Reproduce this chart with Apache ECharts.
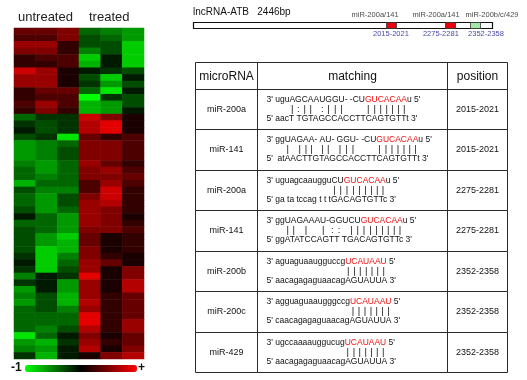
<!DOCTYPE html>
<html><head><meta charset="utf-8">
<script src="https://cdn.jsdelivr.net/npm/echarts@6/dist/echarts.min.js"></script>
<style>html,body{margin:0;padding:0;background:#fff}#c{width:527px;height:380px}</style>
</head><body><div id="c"></div>
<script>
// ---------------- DATA ----------------
const groupLabels = ['untreated', 'treated'];
const sampleNames = ['untreated 1', 'untreated 2', 'untreated 3', 'treated 1', 'treated 2', 'treated 3'];
const untreated1 = [0.4,0.3,0.6,0.5,0.2,0.2,0.8,0.6,0.6,0.2,
  0.2,0.3,0.2,-0.4,-0.2,-0.1,-0.3,-0.6,-0.6,-0.6,
  -0.5,-0.4,-0.4,-0.7,-0.3,-0.4,-0.4,-0.3,-0.1,-0.4,
  -0.3,-0.3,-0.3,-0.3,-0.2,-0.1,-0.2,-0.5,-0.2,-0.6,
  -0.5,-0.6,-0.4,-0.4,-0.4,-0.4,-0.9,-0.6,-0.5,-0.2];
const untreated2 = [0.4,0.3,0.6,0.5,0.3,0.2,0.6,0.6,0.6,0.4,
  0.3,0.6,0.5,-0.2,-0.3,-0.3,-0.2,-0.5,-0.5,-0.5,
  -0.6,-0.6,-0.5,-0.4,-0.5,-0.6,-0.6,-0.6,-0.4,-0.4,
  -0.4,-0.6,-0.6,-0.8,-0.8,-0.8,-0.8,-0.1,-0.1,-0.1,
  -0.3,-0.3,-0.3,-0.4,-0.4,-0.5,-0.4,-0.7,-0.6,-0.7];
const untreated3 = [0.5,0.5,0.2,0.2,0.3,0.3,0.1,0.1,0.1,0.4,
  0.3,0.3,0.2,-0.2,-0.2,-0.2,-0.9,-0.4,-0.3,-0.3,
  -0.4,-0.4,-0.4,-0.4,-0.5,-0.3,-0.3,-0.4,-0.6,-0.6,
  -0.6,-0.8,-0.7,-0.7,-0.5,-0.4,-0.3,-0.2,-0.6,-0.6,
  -0.7,-0.7,-0.5,-0.4,-0.4,-0.3,-0.1,-0.2,-0.1,-0.1];
const treated1 = [-0.4,-0.3,-0.3,-0.5,-0.8,-0.7,-0.1,-0.3,-0.2,-0.4,
  -1.0,-0.7,-0.7,0.8,0.7,0.7,0.4,0.5,0.5,0.5,
  0.6,0.5,0.5,0.3,0.3,0.5,0.6,0.6,0.6,0.6,
  0.5,0.4,0.4,0.5,0.5,0.6,0.6,0.9,0.6,0.6,
  0.6,0.7,0.6,0.9,0.9,0.7,0.5,0.6,0.7,0.1];
const treated2 = [-0.5,-0.4,-0.3,-0.3,-0.1,-0.1,-0.2,-0.8,-0.6,-0.9,
  -0.2,-0.6,-0.6,0.5,0.9,0.9,0.2,0.5,0.5,0.5,
  0.4,0.6,0.5,0.6,0.8,0.8,0.7,0.5,0.5,0.5,
  0.5,0.1,0.1,0.1,0.2,0.4,0.1,0.1,0.1,0.1,
  0.2,0.2,0.2,0.2,0.2,0.2,0.1,0.2,0.1,0.5];
const treated3 = [-0.6,-0.6,-0.8,-0.8,-0.8,-0.8,-0.3,-0.1,-0.3,-0.1,
  -0.3,-0.3,-0.1,0.1,0.1,0.1,0.3,0.3,0.3,0.3,
  0.2,0.3,0.4,0.3,0.2,0.2,0.2,0.2,0.1,0.2,
  0.3,0.2,0.2,0.2,0.1,0.1,0.5,0.5,0.7,0.7,
  0.4,0.4,0.4,0.4,0.6,0.6,0.4,0.4,0.5,0.7];
const colorbarLabels = ['-1', '+'];

const lncTitle = 'lncRNA-ATB   2446bp';
const siteMirs = ['miR-200a/141', 'miR-200a/141', 'miR-200b/c/429'];
const sitePositions = ['2015-2021', '2275-2281', '2352-2358'];

const tableHeaders = ['microRNA', 'matching', 'position'];
const mirNames = ['miR-200a', 'miR-141', 'miR-200a', 'miR-141', 'miR-200b', 'miR-200c', 'miR-429'];
const mirPre = ["3' uguAGCAAUGGU- -CU", "3' ggUAGAA- AU- GGU- -CU", "3' uguagcaaugguCU", "3' ggUAGAAAU-GGUCU",
  "3' aguaguaaugguccg", "3' agguaguaaugggccg", "3' ugccaaaauggucug"];
const mirSeed = ['GUCACAA', 'GUCACAA', 'GUCACAA', 'GUCACAA', 'UCAUAAU', 'UCAUAAU', 'UCAUAAU'];
const mirPost = ["u 5'", "u 5'", "u 5'", "u 5'", " 5'", " 5'", " 5'"];
// one character per miRNA base: '|' pair, ':' G:U pair, '.' none
const pairLines = [
  '......|:||.:|||.....|||||||....',
  '.....|.|||..||..|||.....|||||||....',
  '...............|||||||||....',
  '.....||.|..|.::.|||||||||...',
  '..................|||||||...',
  '...................|||||||...',
  '..................|||||||...'
];
const targetLines = ["5' aacT TGTAGCCACCTTCAGTGTTt 3'", "5'  atAACTTGTAGCCACCTTCAGTGTTt 3'",
  "5' ga ta tccag t t tGACAGTGTTc 3'", "5' ggATATCCAGTT TGACAGTGTTc 3'",
  "5' aacagagaguaacagAGUAUUA 3'", "5' caacagagaguaacagAGUAUUA 3'", "5' aacagagaguaacagAGUAUUA 3'"];
const matchPositions = ['2015-2021', '2015-2021', '2275-2281', '2275-2281', '2352-2358', '2352-2358', '2352-2358'];

// ---------------- LAYOUT / STYLE ----------------
const FONT = 'Liberation Sans, Arial, Helvetica, sans-serif';
const colEdges = [0, 62 / 312, 252 / 312, 1];
const headerFrac = 27 / 310;
const siteBoxFrac = [[0.645, 0.679], [0.843, 0.876], [0.926, 0.960]];
const siteMirLabelFrac = [0.609, 0.813, 1.0];
const sitePosLabelFrac = [0.662, 0.829, 0.980];
const siteFill = ['#e8000c', '#e8000c', '#a4e6a4'];
const SEQ_SIZE = 8.5;

const ctx = document.createElement('canvas').getContext('2d');
function tw(s, size) { ctx.font = size + 'px ' + FONT; return ctx.measureText(s).width; }
function txt(x, y, s, o) {
  o = o || {};
  return { type: 'text', x: x, y: y, silent: true, style: {
    text: s, fill: o.fill || '#111', fontSize: o.size || 9, fontFamily: FONT, fontWeight: o.weight || 'normal',
    align: o.align || 'left', verticalAlign: 'middle', textAlign: o.align || 'left', textVerticalAlign: 'middle' } };
}

const columns = [untreated1, untreated2, untreated3, treated1, treated2, treated3];
const heatData = [];
columns.forEach((col, ci) => col.forEach((v, ri) => heatData.push([ci, ri, v])));

const bodyRows = mirNames.length;
function rowEdge(i) { return i === 0 ? 0 : headerFrac + (1 - headerFrac) * (i - 1) / bodyRows; }

function renderTable(params, api) {
  const i = api.value(0);
  const yTop = Math.round(api.coord([0, rowEdge(i)])[1]) + 0.5;
  const yBot = Math.round(api.coord([0, rowEdge(i + 1)])[1]) + 0.5;
  const xs = colEdges.map(f => Math.round(api.coord([f, 0])[0]) + 0.5);
  const ch = [];
  for (let c = 0; c < 3; c++) {
    ch.push({ type: 'rect', silent: true, shape: { x: xs[c], y: yTop, width: xs[c + 1] - xs[c], height: yBot - yTop },
      style: { fill: 'none', stroke: '#2a2a2a', lineWidth: 1 } });
  }
  const ym = (yTop + yBot) / 2;
  if (i === 0) {
    tableHeaders.forEach((h, c) => ch.push(txt((xs[c] + xs[c + 1]) / 2, ym + 1, h, { size: 12, align: 'center' })));
  } else {
    const r = i - 1;
    ch.push(txt((xs[0] + xs[1]) / 2, ym, mirNames[r], { size: 9, align: 'center' }));
    ch.push(txt((xs[2] + xs[3]) / 2, ym, matchPositions[r], { size: 9, align: 'center' }));
    const x0 = xs[1] + 9;
    const l1 = mirPre[r] + mirSeed[r] + mirPost[r];
    const y1 = yTop + 10, y2 = yTop + 19.5, y3 = yTop + 29;
    ch.push(txt(x0, y1, mirPre[r], { size: SEQ_SIZE }));
    const wPre = tw(mirPre[r], SEQ_SIZE);
    ch.push(txt(x0 + wPre, y1, mirSeed[r], { size: SEQ_SIZE, fill: '#f01010' }));
    ch.push(txt(x0 + wPre + tw(mirSeed[r], SEQ_SIZE), y1, mirPost[r], { size: SEQ_SIZE }));
    const pl = pairLines[r];
    for (let k = 0; k < pl.length; k++) {
      if (pl[k] === '.') continue;
      const cx = x0 + tw(l1.slice(0, k), SEQ_SIZE) + tw(l1[k], SEQ_SIZE) / 2;
      ch.push(txt(cx, y2, pl[k], { size: 9.5, align: 'center' }));
    }
    ch.push(txt(x0, y3, targetLines[r], { size: SEQ_SIZE }));
  }
  return { type: 'group', children: ch };
}

function renderBackbone(params, api) {
  const a = api.coord([api.value(0), 1]), b = api.coord([api.value(1), 0]);
  const x = Math.round(a[0]) + 0.5, y = Math.round(a[1]) + 0.5;
  return { type: 'rect', silent: true, shape: { x: x, y: y, width: Math.round(b[0] - a[0]), height: Math.round(b[1] - a[1]) },
    style: { fill: 'none', stroke: '#111', lineWidth: 1.2 } };
}
function renderSite(params, api) {
  const s = api.value(0);
  const a = api.coord([siteBoxFrac[s][0], 1]), b = api.coord([siteBoxFrac[s][1], 0]);
  const yTop = a[1], yBot = b[1];
  const lm = api.coord([siteMirLabelFrac[s], 1]), lp = api.coord([sitePosLabelFrac[s], 0]);
  return { type: 'group', children: [
    { type: 'rect', silent: true, shape: { x: Math.round(a[0]) + 0.5, y: Math.round(yTop) + 0.5, width: Math.round(b[0] - a[0]), height: Math.round(yBot - yTop) },
      style: { fill: siteFill[s], stroke: '#333', lineWidth: 0.8 } },
    txt(lm[0], yTop - 7, siteMirs[s], { size: 7.5, align: 'center', fill: '#4a4a4a' }),
    txt(lp[0], yBot + 5.5, sitePositions[s], { size: 7.5, align: 'center', fill: '#4848a8' })
  ] };
}

const option = {
  animation: false,
  backgroundColor: '#ffffff',
  title: [
    { text: groupLabels[0], left: 18, top: 11, padding: 0, textStyle: { fontFamily: FONT, fontSize: 13, fontWeight: 'normal', color: '#222' } },
    { text: groupLabels[1], left: 89, top: 11, padding: 0, textStyle: { fontFamily: FONT, fontSize: 13, fontWeight: 'normal', color: '#222' } },
    { text: lncTitle, left: 193, top: 7, padding: 0, textStyle: { fontFamily: FONT, fontSize: 10, fontWeight: 'normal', color: '#111' } }
  ],
  grid: [
    { left: 14, top: 28, width: 130, height: 331 },
    { left: 195, top: 62, width: 312, height: 310 },
    { left: 193, top: 22, width: 299, height: 6 }
  ],
  xAxis: [
    { gridIndex: 0, type: 'category', data: sampleNames, show: false },
    { gridIndex: 1, type: 'value', min: 0, max: 1, show: false },
    { gridIndex: 2, type: 'value', min: 0, max: 1, show: false }
  ],
  yAxis: [
    { gridIndex: 0, type: 'category', data: untreated1.map((_, i) => 'r' + i), inverse: true, show: false },
    { gridIndex: 1, type: 'value', min: 0, max: 1, inverse: true, show: false },
    { gridIndex: 2, type: 'value', min: 0, max: 1, show: false }
  ],
  visualMap: {
    type: 'continuous', seriesIndex: 0, min: -1, max: 1, calculable: false, hoverLink: false,
    orient: 'horizontal', left: 25, top: 365, itemWidth: 7, itemHeight: 112, padding: 0,
    inRange: { color: ['#00ff00', '#000000', '#ff0000'] }
  },
  graphic: [
    { type: 'text', left: 11, top: 362, silent: true, style: { text: colorbarLabels[0], fontSize: 12, fontWeight: 'bold', fontFamily: FONT, fill: '#111' } },
    { type: 'text', left: 138, top: 362, silent: true, style: { text: colorbarLabels[1], fontSize: 12, fontWeight: 'bold', fontFamily: FONT, fill: '#111' } }
  ],
  series: [
    { type: 'heatmap', xAxisIndex: 0, yAxisIndex: 0, data: heatData, itemStyle: { borderWidth: 0 }, emphasis: { disabled: true }, progressive: 0 },
    { type: 'custom', xAxisIndex: 1, yAxisIndex: 1, renderItem: renderTable, clip: false, silent: true,
      data: [[0]].concat(mirNames.map((_, i) => [i + 1])) },
    { type: 'custom', xAxisIndex: 2, yAxisIndex: 2, renderItem: renderBackbone, clip: false, silent: true, data: [[0, 1]] },
    { type: 'custom', xAxisIndex: 2, yAxisIndex: 2, renderItem: renderSite, clip: false, silent: true,
      data: siteMirs.map((_, i) => [i]) }
  ]
};
const chart = echarts.init(document.getElementById('c'), null, { renderer: 'canvas' });
chart.setOption(option);
</script></body></html>
